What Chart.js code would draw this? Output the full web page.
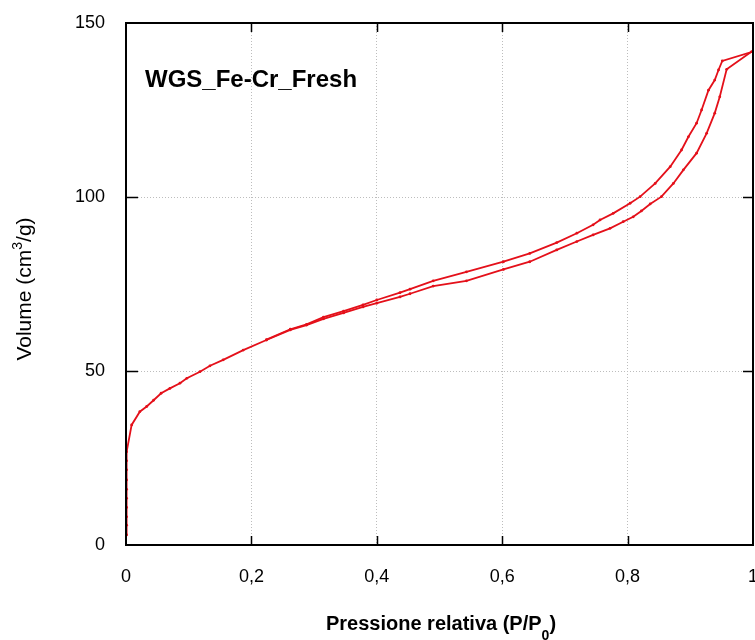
<!DOCTYPE html>
<html><head><meta charset="utf-8">
<script src="https://cdn.jsdelivr.net/npm/chart.js@4.4.1/dist/chart.umd.min.js"></script>
<style>html,body{margin:0;padding:0;background:#fff;}#wrap{width:755px;height:640px;}</style>
</head><body><div id="wrap"><canvas id="c" width="755" height="640"></canvas></div>
<script>
// Adsorption branch (lower)
const adsP = [0.001,0.001,0.001,0.001,0.001,0.001,0.001,0.001,0.001,0.001,0.009,0.022,0.033,0.044,0.056,0.07,0.086,0.097,0.118,0.134,0.155,0.187,0.224,0.262,0.288,0.315,0.347,0.378,0.4,0.437,0.453,0.49,0.543,0.602,0.644,0.687,0.719,0.745,0.772,0.793,0.809,0.822,0.836,0.854,0.873,0.889,0.91,0.926,0.939,0.947,0.958,0.998];
const adsV = [2.9,5.7,8.1,10.8,13.4,16,18.7,21.6,24.2,26.8,34.5,38.3,39.8,41.6,43.6,45,46.5,47.9,49.8,51.5,53.2,56,58.9,61.8,63.2,65,66.7,68.4,69.5,71.3,72.2,74.4,75.9,79.2,81.4,84.8,87.2,89.1,91,92.9,94.3,96,98,100.1,103.9,107.8,112.6,118.3,124.1,128.8,136.7,141.8];
// Desorption branch (upper)
const desP = [1.0,0.951,0.945,0.939,0.929,0.918,0.91,0.897,0.886,0.868,0.844,0.82,0.804,0.777,0.756,0.745,0.719,0.687,0.644,0.602,0.543,0.49,0.453,0.437,0.4,0.378,0.347,0.315,0.288,0.262,0.224];
const desV = [141.8,139.1,136.5,133.6,130.7,125,121.2,117.3,113.5,108.7,103.9,100.1,98.2,95.3,93.4,92,89.6,86.9,83.8,81.4,78.5,75.9,73.5,72.5,70.4,69,67.2,65.5,63.4,62,59];
const xTicks = [0,0.2,0.4,0.6,0.8,1];
const yTicks = [0,50,100,150];
const sampleName = 'WGS_Fe-Cr_Fresh';

const red = '#e4101a';
const toXY = (P,V) => P.map((p,i)=>({x:p,y:V[i]}));
const fontFam = '"Liberation Sans", Arial, sans-serif';

const deco = {
  id:'deco',
  afterDraw(chart){
    const ctx = chart.ctx, a = chart.chartArea, xs = chart.scales.x, ys = chart.scales.y;
    ctx.save();
    ctx.strokeStyle = '#000'; ctx.lineWidth = 1.5;
    // inward ticks
    xTicks.forEach(v=>{ if(v<=0||v>=1) return; const px = Math.round(xs.getPixelForValue(v))+0.5;
      ctx.beginPath(); ctx.moveTo(px,a.bottom); ctx.lineTo(px,a.bottom-9); ctx.moveTo(px,a.top); ctx.lineTo(px,a.top+9); ctx.stroke(); });
    yTicks.forEach(v=>{ if(v<=0||v>=150) return; const py = Math.round(ys.getPixelForValue(v))+0.5;
      ctx.beginPath(); ctx.moveTo(a.left,py); ctx.lineTo(a.left+12,py); ctx.moveTo(a.right,py); ctx.lineTo(a.right-10,py); ctx.stroke(); });
    // frame
    ctx.lineWidth = 2;
    ctx.strokeRect(a.left, a.top, a.right-a.left, a.bottom-a.top);
    // sample label
    ctx.fillStyle = '#000';
    ctx.font = 'bold 24px '+fontFam;
    ctx.textBaseline = 'middle'; ctx.textAlign = 'left';
    ctx.fillText(sampleName, 145, 80);
    // x title with subscript
    const tf = 'bold 20px '+fontFam, sf = 'bold 14px '+fontFam;
    ctx.textBaseline = 'alphabetic';
    const t1 = 'Pressione relativa (P/P', t3 = ')';
    ctx.font = tf; const w1 = ctx.measureText(t1).width, w3 = ctx.measureText(t3).width;
    ctx.font = sf; const w2 = ctx.measureText('0').width;
    let x0 = 441 - (w1+w2+w3)/2;
    ctx.font = tf; ctx.fillText(t1, x0, 630);
    ctx.font = sf; ctx.fillText('0', x0+w1, 640);
    ctx.font = tf; ctx.fillText(t3, x0+w1+w2, 630);
    // y title with superscript, rotated
    ctx.translate(31, 289); ctx.rotate(-Math.PI/2);
    const yf = '21px '+fontFam, ysf = '14px '+fontFam;
    const s1 = 'Volume (cm', s2='3', s3='/g)';
    ctx.font = yf; const v1 = ctx.measureText(s1).width, v3 = ctx.measureText(s3).width;
    ctx.font = ysf; const v2 = ctx.measureText(s2).width;
    let y0 = -(v1+v2+v3)/2;
    ctx.font = yf; ctx.fillText(s1, y0, 0);
    ctx.font = ysf; ctx.fillText(s2, y0+v1, -9);
    ctx.font = yf; ctx.fillText(s3, y0+v1+v2, 0);
    ctx.restore();
  }
};

new Chart(document.getElementById('c'), {
  type:'scatter',
  data:{ datasets:[
    {label:'Adsorbimento', data:toXY(adsP,adsV), showLine:true, borderColor:red, backgroundColor:red, borderWidth:1.8, pointRadius:1.4, pointBorderWidth:0, tension:0},
    {label:'Desorbimento', data:toXY(desP,desV), showLine:true, borderColor:red, backgroundColor:red, borderWidth:1.8, pointRadius:1.4, pointBorderWidth:0, tension:0}
  ]},
  options:{
    responsive:false, animation:false,
    layout:{autoPadding:false, padding:{top:23,right:2,left:0,bottom:0}},
    plugins:{legend:{display:false}, tooltip:{enabled:false}},
    scales:{
      x:{ type:'linear', min:0, max:1,
        afterBuildTicks(s){ s.ticks = xTicks.map(v=>({value:v})); },
        afterFit(s){ s.height = 95; s.paddingLeft = 0; s.paddingRight = 0; },
        border:{display:false, dash:[1,2]},
        grid:{ drawTicks:false, color:(c)=> (c.tick && (c.tick.value<=0||c.tick.value>=1)) ? 'rgba(0,0,0,0)' : '#bdbdbd', lineWidth:1 },
        ticks:{ padding:21, color:'#000', font:{family:fontFam, size:18}, maxRotation:0,
          callback:(v)=> String(v).replace('.',',') }
      },
      y:{ min:0, max:150,
        afterBuildTicks(s){ s.ticks = yTicks.map(v=>({value:v})); },
        afterFit(s){ s.width = 126; s.paddingTop = 0; s.paddingBottom = 0; },
        border:{display:false, dash:[1,2]},
        grid:{ drawTicks:false, color:(c)=> (c.tick && (c.tick.value<=0||c.tick.value>=150)) ? 'rgba(0,0,0,0)' : '#bdbdbd', lineWidth:1 },
        ticks:{ padding:21, color:'#000', font:{family:fontFam, size:18} }
      }
    }
  },
  plugins:[deco]
});
</script></body></html>
